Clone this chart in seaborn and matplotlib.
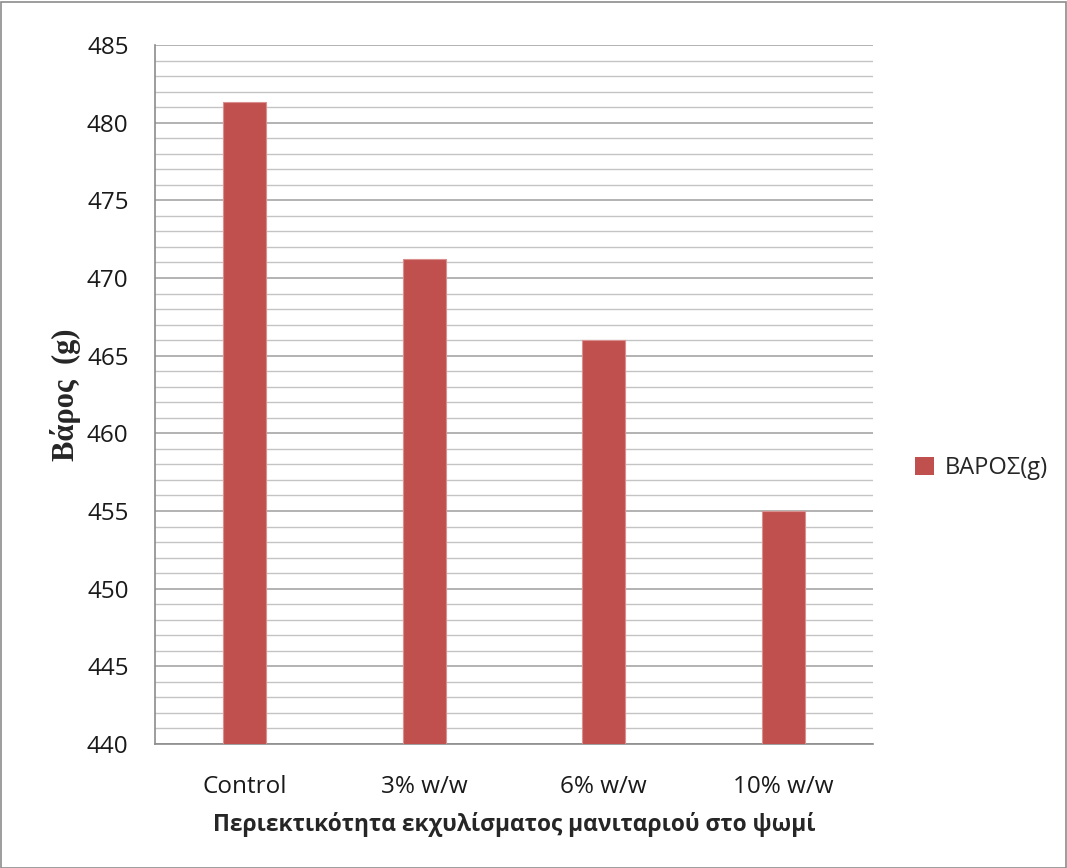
import matplotlib
matplotlib.use('Agg')
import matplotlib.pyplot as plt
import seaborn as sns
import pandas as pd
import numpy as np
from matplotlib.patches import Rectangle, Patch

categories = ['Control', '3% w/w', '6% w/w', '10% w/w']
weights = [481.3, 471.2, 466.0, 455.0]
series_name = 'ΒΑΡΟΣ(g)'

df = pd.DataFrame({'sample': categories, 'weight': weights})

sns.set_style('white')
plt.rcParams['font.family'] = ['Open Sans', 'DejaVu Sans']

fig = plt.figure(figsize=(10.67, 8.68), dpi=100)
ax = fig.add_axes([155 / 1067, 1 - 744 / 868, (873 - 155) / 1067, (744 - 45) / 868])

bar_color = '#C0504D'
sns.barplot(data=df, x='sample', y='weight', color=bar_color, width=0.24,
            saturation=1, ax=ax, zorder=3, edgecolor='#D9908E', linewidth=0.8)

ax.set_ylim(440, 485)
ax.set_xlim(-0.5, 3.5)
ax.set_yticks(np.arange(440, 486, 5))
ax.set_yticks(np.arange(440, 486, 1), minor=True)
ax.grid(True, which='major', axis='y', color='#A6A6A6', linewidth=1.2, zorder=0)
ax.grid(True, which='minor', axis='y', color='#C4C4C4', linewidth=1.0, zorder=0)
ax.set_axisbelow(True)

for s in ['top', 'right']:
    ax.spines[s].set_visible(False)
for s in ['left', 'bottom']:
    ax.spines[s].set_color('#8C8C8C')
    ax.spines[s].set_linewidth(1.2)

ax.tick_params(axis='y', which='major', direction='out', length=7, width=1.2,
               color='#8C8C8C', labelsize=17.5, pad=12)
ax.tick_params(axis='y', which='minor', length=0)
ax.tick_params(axis='x', length=0, labelsize=17.5, pad=22)
for t in ax.get_yticklabels() + ax.get_xticklabels():
    t.set_color('#1a1a1a')

ax.set_xlabel('Περιεκτικότητα εκχυλίσματος μανιταριού στο ψωμί', fontsize=16.4,
              fontweight='bold', labelpad=10)
ax.set_ylabel('Βάρος  (g)', fontsize=22, fontweight='bold',
              family=['Liberation Serif', 'DejaVu Serif'], labelpad=4)

handle = Patch(facecolor=bar_color, edgecolor='none')
fig.legend([handle], [series_name], loc='center left',
           bbox_to_anchor=(908 / 1067, 1 - 468 / 868), frameon=False,
           fontsize=17, handlelength=0.8, handleheight=0.8, handletextpad=0.45,
           borderaxespad=0, borderpad=0.3)

fig.patches.append(Rectangle((0.5 / 1067, 0.5 / 868), 1 - 2 / 1067, 1 - 2 / 868,
                             transform=fig.transFigure, fill=False,
                             edgecolor='#8C8C8C', linewidth=1.2))

fig.savefig('out.png', dpi=100)
